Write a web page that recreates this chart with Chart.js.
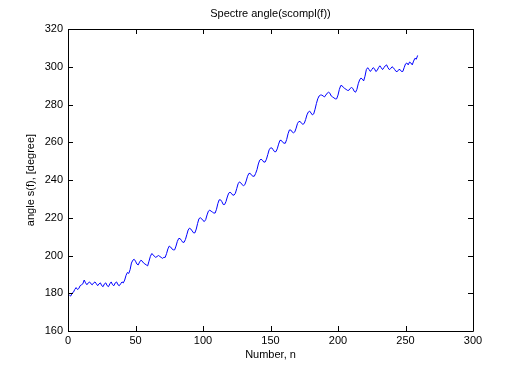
<!DOCTYPE html>
<html>
<head>
<meta charset="utf-8">
<script src="https://cdn.jsdelivr.net/npm/chart.js@4/dist/chart.umd.min.js"></script>
<style>
body { margin: 0; background: #fff; }
canvas { display: block; }
</style>
</head>
<body>
<canvas id="myChart" width="529" height="372"></canvas>
<script>
// angle of the spectrum, one value per sample n = 1, 2, 3 ...
var angleDeg = [
    179, 178.5, 180, 180.5, 182, 183, 182, 182.5, 184, 184.5,
    185, 187, 185.5, 184.5, 185.5, 186, 185, 184.5, 185.5, 186,
    185, 184, 185, 185.5, 184, 183.5, 185, 185.5, 184, 183.5,
    185, 186, 184.5, 184, 185.5, 186, 184.5, 184, 185, 186,
    185.5, 187, 189.5, 191, 190.5, 192.5, 196, 197.5, 198, 197,
    195.5, 195, 196.5, 197.5, 197, 196, 195.5, 195, 194.5, 197,
    199.5, 201, 200.5, 199.5, 199, 199.5, 200, 199.5, 199, 198.5,
    199, 199, 201, 203.5, 205, 204.5, 203.5, 203, 203, 205,
    207.5, 209, 209, 208, 207, 207, 208.5, 211, 213.5, 214.5,
    214, 213, 212, 212, 214, 217, 219.5, 220, 219.5, 218.5,
    218, 219, 221.5, 223.5, 224, 223.5, 223, 222.5, 222.5, 224.5,
    227.5, 229.5, 229.5, 228.5, 227, 227, 228.5, 231, 233, 233.5,
    233, 232, 232, 233, 235.5, 238, 239, 238.5, 237.5, 237,
    237.5, 239.5, 242, 243.5, 243.5, 242.5, 242, 242, 243.5, 245.5,
    248.5, 250.5, 251, 250.5, 249.5, 249.5, 251, 253.5, 256, 257,
    257, 256, 255, 255, 256.5, 259, 261, 261, 260, 259.5,
    259.5, 261.5, 264.5, 266.5, 266.5, 265.5, 265, 265.5, 267.5, 270,
    271, 271, 270, 269.5, 270, 272, 274.5, 276, 276.5, 275.5,
    274.5, 275, 277.5, 280.5, 283, 284.5, 285, 285, 284.5, 284,
    285, 286, 286.5, 286, 284.5, 284, 283.5, 283, 283, 285,
    288, 290, 290, 289, 288.5, 288, 287.5, 287.5, 288.5, 289,
    288.5, 287, 286.5, 288, 291, 293, 294, 293.5, 292.5, 295,
    298.5, 299.5, 298.5, 297.5, 298.5, 299.5, 299, 297.5, 298, 299.5,
    300.5, 299.5, 298.5, 299.5, 300.5, 301, 299.5, 298.5, 299, 300,
    299.5, 298.5, 297.5, 297.5, 298.5, 298.5, 297.5, 297.5, 299.5, 301.5,
    302, 301, 302.5, 302, 301, 303, 304.5, 304, 306
];
var xTicks = [0, 50, 100, 150, 200, 250, 300];
var yTicks = [160, 180, 200, 220, 240, 260, 280, 300, 320];
var chartTitle = 'Spectre angle(scompl(f))';
var xLabel = 'Number, n';
var yLabel = 'angle s(f), [degree]';

var FONT = '11px "Liberation Sans", Arial, sans-serif';

var points = [];
for (var i in angleDeg) {
    points.push({ x: Number(i) + 1, y: angleDeg[i] });
}

// matlab like box with ticks pointing inwards, plus the titles
var boxPlugin = {
    id: 'box',
    afterDraw: function(chart) {
        var ctx = chart.ctx;
        var a = chart.chartArea;
        var xs = chart.scales.x;
        var ys = chart.scales.y;
        var len = 5;
        ctx.save();
        ctx.strokeStyle = '#000';
        ctx.lineWidth = 1;
        ctx.beginPath();
        ctx.rect(Math.round(a.left) + 0.5, Math.round(a.top) + 0.5,
            Math.round(a.right - a.left), Math.round(a.bottom - a.top));
        xTicks.forEach(function(v) {
            var px = Math.round(xs.getPixelForValue(v)) + 0.5;
            ctx.moveTo(px, a.bottom);
            ctx.lineTo(px, a.bottom - len);
            ctx.moveTo(px, a.top);
            ctx.lineTo(px, a.top + len);
        });
        yTicks.forEach(function(v) {
            var py = Math.round(ys.getPixelForValue(v)) + 0.5;
            ctx.moveTo(a.left, py);
            ctx.lineTo(a.left + len, py);
            ctx.moveTo(a.right, py);
            ctx.lineTo(a.right - len, py);
        });
        ctx.stroke();

        ctx.fillStyle = '#000';
        ctx.font = FONT;
        ctx.textAlign = 'center';
        ctx.textBaseline = 'middle';
        var cx = (a.left + a.right) / 2;
        ctx.fillText(chartTitle, cx, 14);
        ctx.fillText(xLabel, cx, 355);
        ctx.translate(31, (a.top + a.bottom) / 2);
        ctx.rotate(-Math.PI / 2);
        ctx.fillText(yLabel, 0, 0);
        ctx.restore();
    }
};

window.onload = () => {
    var ctx = document.getElementById('myChart').getContext('2d');
    var myChart = new Chart(ctx, {
        type: 'line',
        data: {
            datasets: [{
                data: points,
                borderColor: 'rgb(0, 0, 255)',
                borderWidth: 1,
                pointRadius: 0,
                fill: false,
                tension: 0
            }]
        },
        options: {
            responsive: false,
            animation: false,
            layout: { padding: { top: 29, right: 56, left: 0, bottom: 0 } },
            plugins: {
                legend: { display: false },
                tooltip: { enabled: false }
            },
            scales: {
                x: {
                    type: 'linear',
                    min: 0,
                    max: 300,
                    border: { display: false },
                    grid: { display: false, drawTicks: false },
                    afterBuildTicks: (s) => { s.ticks = xTicks.map(v => ({ value: v })); },
                    afterFit: (s) => { s.height = 41; },
                    ticks: { color: '#000', font: { family: '"Liberation Sans", Arial, sans-serif', size: 11 }, padding: 3, maxRotation: 0 }
                },
                y: {
                    min: 160,
                    max: 320,
                    border: { display: false },
                    grid: { display: false, drawTicks: false },
                    afterBuildTicks: (s) => { s.ticks = yTicks.map(v => ({ value: v })); },
                    afterFit: (s) => { s.width = 68; },
                    ticks: { color: '#000', font: { family: '"Liberation Sans", Arial, sans-serif', size: 11 }, padding: 5 }
                }
            }
        },
        plugins: [boxPlugin]
    });
};
</script>
</body>
</html>
